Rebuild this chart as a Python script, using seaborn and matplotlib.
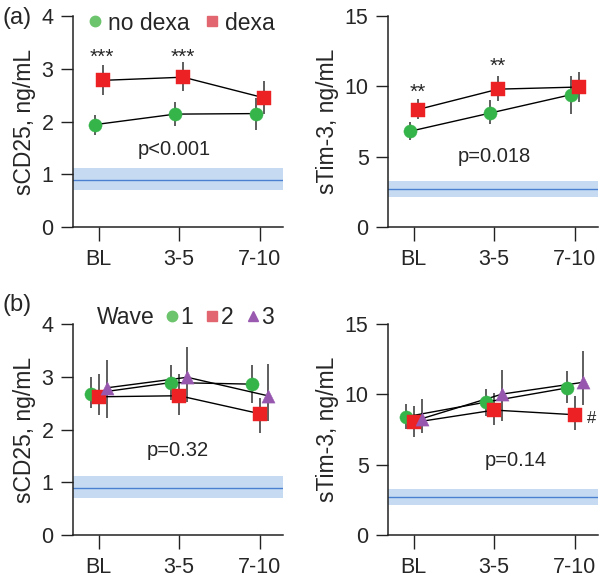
import numpy as np
import pandas as pd
import matplotlib
matplotlib.use("Agg")
import matplotlib.pyplot as plt
import seaborn as sns
from matplotlib.lines import Line2D

# ---------------- data ----------------
cats = ["BL", "3-5", "7-10"]

# (a) no dexa vs dexa
cd25_nodexa = [1.94, 2.14, 2.15]
cd25_nodexa_lo = [1.75, 1.92, 1.84]
cd25_nodexa_hi = [2.13, 2.37, 2.44]
cd25_dexa = [2.78, 2.84, 2.45]
cd25_dexa_lo = [2.50, 2.58, 2.15]
cd25_dexa_hi = [3.08, 3.13, 2.76]

tim3_nodexa = [6.80, 8.10, 9.40]
tim3_nodexa_lo = [6.15, 7.35, 8.05]
tim3_nodexa_hi = [7.50, 9.00, 10.70]
tim3_dexa = [8.35, 9.80, 9.95]
tim3_dexa_lo = [7.65, 8.95, 8.90]
tim3_dexa_hi = [9.10, 10.70, 11.05]

# (b) waves 1-3
cd25_w1 = [2.68, 2.89, 2.86]
cd25_w1_lo = [2.41, 2.56, 2.50]
cd25_w1_hi = [3.00, 3.23, 3.23]
cd25_w2 = [2.62, 2.64, 2.30]
cd25_w2_lo = [2.27, 2.27, 1.94]
cd25_w2_hi = [3.05, 3.05, 2.59]
cd25_w3 = [2.79, 2.99, 2.64]
cd25_w3_lo = [2.22, 2.53, 2.17]
cd25_w3_hi = [3.32, 3.56, 3.24]

tim3_w1 = [8.40, 9.45, 10.45]
tim3_w1_lo = [7.57, 8.45, 9.40]
tim3_w1_hi = [9.29, 10.40, 11.67]
tim3_w2 = [8.00, 8.88, 8.55]
tim3_w2_lo = [6.98, 7.81, 7.45]
tim3_w2_hi = [9.17, 10.07, 9.88]
tim3_w3 = [8.27, 10.02, 10.85]
tim3_w3_lo = [7.26, 8.10, 9.24]
tim3_w3_hi = [9.64, 11.74, 13.05]

# normal ranges (mean, low, high)
cd25_ref = [0.90, 0.71, 1.12]
tim3_ref = [2.70, 2.10, 3.27]

p_texts = ["p<0.001", "p=0.018", "p=0.32", "p=0.14"]
legend_a = ["no dexa", "dexa"]
legend_b = ["1", "2", "3"]

# ---------------- style ----------------
sns.set_style("ticks")
plt.rcParams["font.family"] = ["Liberation Sans", "DejaVu Sans"]

GREEN = "#35b44a"
RED = "#ec2124"
PURPLE = "#9857ae"
GREEN_L = "#6cc46c"
RED_L = "#e2666f"
PURPLE_L = "#9a5ab0"

fig = plt.figure(figsize=(5.99, 5.78), dpi=100)
W, H = 599, 578


def add_ax(x0, y_top, w=210, h=211):
    return fig.add_axes([x0 / W, 1 - (y_top + h) / H, w / W, h / H])


ax_a1 = add_ax(73, 16)
ax_a2 = add_ax(388, 16)
ax_b1 = add_ax(73, 324)
ax_b2 = add_ax(388, 324)


def draw_series(ax, vals, lo, hi, offset, marker, color):
    df = pd.DataFrame({"x": np.arange(len(cats)) + offset, "y": vals,
                       "lo": lo, "hi": hi})
    ax.vlines(df["x"], df["lo"], df["hi"], color="#333333", lw=1.1, zorder=2)
    sns.lineplot(data=df, x="x", y="y", color="black", lw=1.0, ax=ax,
                 errorbar=None, zorder=3, legend=False)
    sns.scatterplot(data=df, x="x", y="y", marker=marker, s=90, color=color,
                    edgecolor=color, linewidth=0.3, ax=ax, zorder=4, legend=False)


def style_ax(ax, ymax, yticks, ylabel, ref, ptext, pxy):
    ax.axhspan(ref[1], ref[2], color="#c6dbf2", lw=0, zorder=0)
    ax.axhline(ref[0], color="#4a80cf", lw=1.0, zorder=1)
    ax.set_xlim(-0.32, 2.29)
    ax.set_ylim(0, ymax)
    ax.set_xticks(range(len(cats)))
    ax.set_xticklabels(cats)
    ax.set_yticks(yticks)
    ax.set_ylabel(ylabel, fontsize=16.5, labelpad=4)
    ax.set_xlabel("")
    for s in ["top", "right"]:
        ax.spines[s].set_visible(False)
    for s in ["left", "bottom"]:
        ax.spines[s].set_color("#222222")
        ax.spines[s].set_linewidth(1.1)
    ax.tick_params(axis="y", length=9, width=1.0, pad=5, labelsize=15.5,
                   color="#222222")
    ax.tick_params(axis="x", length=10, width=1.0, pad=6, labelsize=15.5,
                   color="#222222")
    ax.text(pxy[0], pxy[1], ptext, ha="center", va="center", fontsize=14.5)


# (a) left
draw_series(ax_a1, cd25_nodexa, cd25_nodexa_lo, cd25_nodexa_hi, -0.05, "o", GREEN)
draw_series(ax_a1, cd25_dexa, cd25_dexa_lo, cd25_dexa_hi, 0.05, "s", RED)
style_ax(ax_a1, 4, [0, 1, 2, 3, 4], "sCD25, ng/mL", cd25_ref, p_texts[0], (0.94, 1.47))
for xi in [0, 1]:
    ax_a1.text(xi + 0.04, 3.22, "***", ha="center", va="center", fontsize=15)

# (a) right
draw_series(ax_a2, tim3_nodexa, tim3_nodexa_lo, tim3_nodexa_hi, -0.05, "o", GREEN)
draw_series(ax_a2, tim3_dexa, tim3_dexa_lo, tim3_dexa_hi, 0.05, "s", RED)
style_ax(ax_a2, 15, [0, 5, 10, 15], "sTim-3, ng/mL", tim3_ref, p_texts[1], (1.0, 5.0))
ax_a2.text(0.05, 9.6, "**", ha="center", va="center", fontsize=15)
ax_a2.text(1.05, 11.4, "**", ha="center", va="center", fontsize=15)

# (b) left
draw_series(ax_b1, cd25_w1, cd25_w1_lo, cd25_w1_hi, -0.1, "o", GREEN)
draw_series(ax_b1, cd25_w2, cd25_w2_lo, cd25_w2_hi, 0.0, "s", RED)
draw_series(ax_b1, cd25_w3, cd25_w3_lo, cd25_w3_hi, 0.1, "^", PURPLE)
style_ax(ax_b1, 4, [0, 1, 2, 3, 4], "sCD25, ng/mL", cd25_ref, p_texts[2], (0.98, 1.61))

# (b) right
draw_series(ax_b2, tim3_w1, tim3_w1_lo, tim3_w1_hi, -0.1, "o", GREEN)
draw_series(ax_b2, tim3_w2, tim3_w2_lo, tim3_w2_hi, 0.0, "s", RED)
draw_series(ax_b2, tim3_w3, tim3_w3_lo, tim3_w3_hi, 0.1, "^", PURPLE)
style_ax(ax_b2, 15, [0, 5, 10, 15], "sTim-3, ng/mL", tim3_ref, p_texts[3], (1.27, 5.3))
ax_b2.text(2.21, 8.3, "#", ha="center", va="center", fontsize=12)

# legends
h_a = [Line2D([], [], ls="", marker="o", ms=7.5, color=GREEN_L, mec=GREEN_L),
       Line2D([], [], ls="", marker="s", ms=7.5, color=RED_L, mec=RED_L)]
fig.legend(h_a, legend_a, loc="center left", bbox_to_anchor=(88 / W, 1 - 23 / H),
           ncol=2, frameon=False, fontsize=16.5, handlelength=0.6,
           handletextpad=0.26, columnspacing=0.7, borderpad=0, borderaxespad=0)

fig.text(97 / W, 1 - 318 / H, "Wave", ha="left", va="center", fontsize=16.5)
h_b = [Line2D([], [], ls="", marker="o", ms=7.5, color=GREEN_L, mec=GREEN_L),
       Line2D([], [], ls="", marker="s", ms=7.5, color=RED_L, mec=RED_L),
       Line2D([], [], ls="", marker="^", ms=7.5, color=PURPLE_L, mec=PURPLE_L)]
fig.legend(h_b, legend_b, loc="center left", bbox_to_anchor=(166 / W, 1 - 318 / H),
           ncol=3, frameon=False, fontsize=16.5, handlelength=0.5,
           handletextpad=0.12, columnspacing=0.6, borderpad=0, borderaxespad=0)

# panel letters
fig.text(3 / W, 1 - 18 / H, "(a)", ha="left", va="center", fontsize=17)
fig.text(3 / W, 1 - 305 / H, "(b)", ha="left", va="center", fontsize=17)

fig.savefig("out.png", dpi=100)
